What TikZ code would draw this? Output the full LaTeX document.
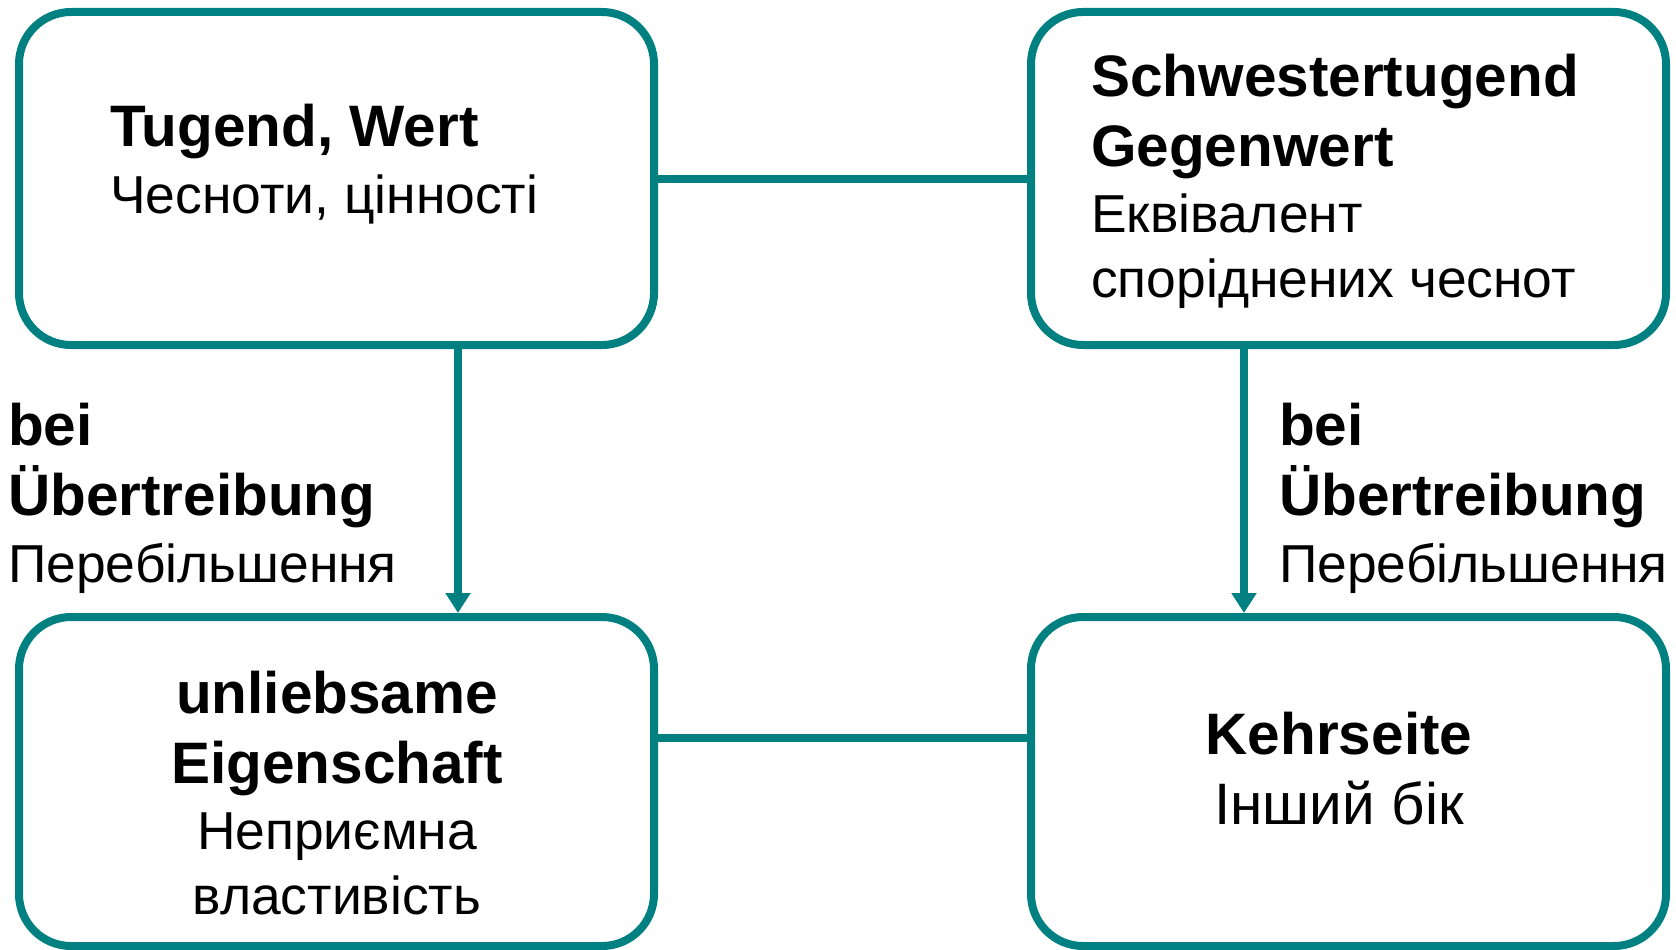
\documentclass[tikz,border=0pt]{standalone}
\usepackage{fontspec}
\setmainfont{Liberation Sans}
\usetikzlibrary{arrows.meta}
\definecolor{tealline}{RGB}{0,128,128}
% bold German line and regular Ukrainian line
\newcommand{\deline}[1]{{\fontsize{58.5}{64.5}\selectfont\bfseries #1}}
\newcommand{\ukline}[1]{{\fontsize{53.4}{64.5}\selectfont #1}}
\newcommand{\uklarge}[1]{{\fontsize{58.5}{64.5}\selectfont #1}}
\begin{document}
\begin{tikzpicture}[x=1pt,y=-1pt,
  box/.style={draw=tealline, line width=8pt, rounded corners=52pt,
    minimum width=635pt, inner sep=0pt},
  txt/.style={inner sep=0pt, font=\fontsize{58.5}{64.5}\selectfont},
  link/.style={draw=tealline, line width=8pt},
  arrowlink/.style={link, -{Triangle[width=24pt,length=20pt]}}]
  \useasboundingbox (0,0) rectangle (1676,950);

  % boxes
  \node[box, minimum height=333pt] (tl) at (336.5,178.5) {};
  \node[box, minimum height=333pt] (tr) at (1348.5,178.5) {};
  \node[box, minimum height=329pt] (bl) at (336.5,781.5) {};
  \node[box, minimum height=329pt] (br) at (1348.5,781.5) {};

  % connectors
  \draw[link] (tl.east) -- (tr.west);
  \draw[link] ([yshift=44pt]bl.east) -- ([yshift=44pt]br.west);
  \draw[arrowlink] (tl.south -| 458,0) -- (bl.north -| 458,0);
  \draw[arrowlink] (tr.south -| 1244,0) -- (br.north -| 1244,0);

  % texts (anchored at the baseline of their last line)
  \node[txt, anchor=base west, align=left] (tlt) at (110,213)
    {\deline{Tugend, Wert}\\[2pt]\ukline{Чесноти, цінності}};
  \node[txt, anchor=base west, align=left] (trt) at (1091,297)
    {\deline{Schwestertugend}\\[5.5pt]\deline{Gegenwert}\\[2pt]\ukline{Еквівалент}\\\ukline{споріднених чеснот}};
  \node[txt, anchor=base west, align=left] (ll) at (8,582)
    {\deline{bei}\\[5.5pt]\deline{Übertreibung}\\[2pt]\ukline{Перебільшення}};
  \node[txt, anchor=base west, align=left] (rl) at (1279,582)
    {\deline{bei}\\[5.5pt]\deline{Übertreibung}\\[2pt]\ukline{Перебільшення}};
  \node[txt, anchor=base, align=center] (blt) at (337,914)
    {\deline{unliebsame}\\[5.5pt]\deline{Eigenschaft}\\[2pt]\ukline{Неприємна}\\\ukline{властивість}};
  \node[txt, anchor=base, align=center] (brt) at (1339,824)
    {\deline{Kehrseite}\\[5.5pt]\uklarge{Інший бік}};
\end{tikzpicture}
\end{document}
